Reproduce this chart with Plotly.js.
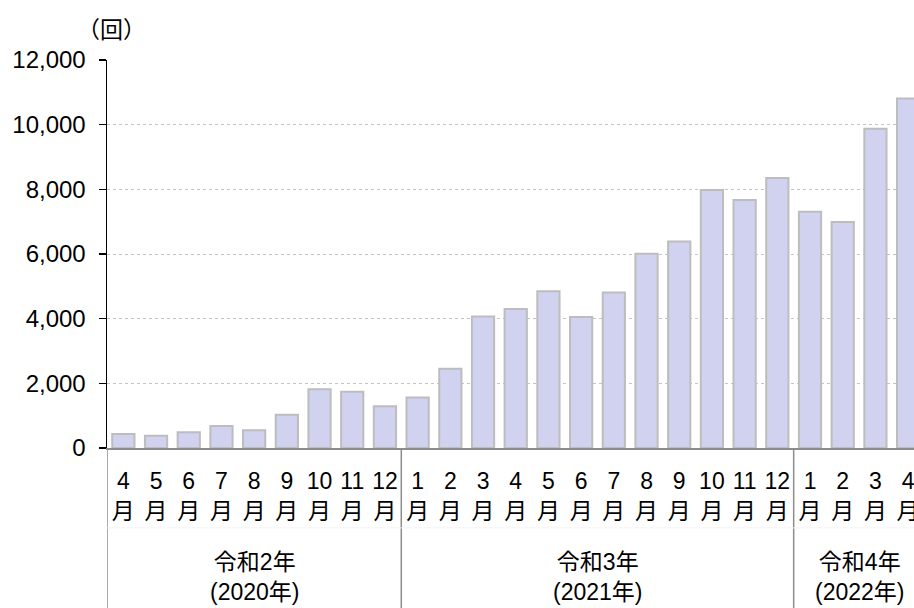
<!DOCTYPE html>
<html>
<head>
<meta charset="utf-8">
<script src="https://cdn.plot.ly/plotly-3.0.1.min.js"></script>
<style>
html,body{margin:0;padding:0;overflow:hidden;background:#fff;}
#chart{width:914px;height:608px;}
</style>
</head>
<body>
<div id="chart"></div>
<script>
// Data
const months = ["4","5","6","7","8","9","10","11","12","1","2","3","4","5","6","7","8","9","10","11","12","1","2","3","4"];
const yearIndex = [0,0,0,0,0,0,0,0,0,1,1,1,1,1,1,1,1,1,1,1,1,2,2,2,2];
const values = [430,380,490,680,550,1030,1820,1740,1290,1560,2450,4070,4300,4850,4050,4810,6010,6390,7980,7670,8350,7310,6990,9870,10810];
const yearLabels = ["令和2年<br>(2020年)","令和3年<br>(2021年)","令和4年<br>(2022年)"];
const yTicks = [0,2000,4000,6000,8000,10000,12000];
const yTickText = ["0","2,000","4,000","6,000","8,000","10,000","12,000"];
const unitLabel = "（回）";

const FONT = "Arial, 'Liberation Sans', 'Noto Sans CJK JP', sans-serif";
const idx = months.map((m,i)=>i);

// group boundaries and centers
const groups = [];
yearIndex.forEach((g,i)=>{
  if(!groups[g]) groups[g] = {start:i,end:i};
  groups[g].end = i;
});

const shapes = [];
// left vertical extension
shapes.push({type:'line', xref:'x', yref:'paper', x0:-0.5, x1:-0.5, y0:0, y1:-0.5, line:{color:'#8c8c8c', width:1.5}});
groups.forEach((g,k)=>{
  if(k>0){
    shapes.push({type:'line', xref:'x', yref:'paper', x0:g.start-0.5, x1:g.start-0.5, y0:0, y1:-0.5, line:{color:'#8c8c8c', width:1.5}});
  }
});
// faint horizontal separator between month row and year row
shapes.push({type:'line', xref:'paper', yref:'paper', x0:0, x1:1, y0:-0.206, y1:-0.206, line:{color:'#f2f2f2', width:1}});

const annotations = groups.map((g,k)=>({
  xref:'x', yref:'paper', x:(g.start+g.end)/2, y:-0.332, yanchor:'middle', xanchor:'center',
  text:yearLabels[k], showarrow:false, font:{family:FONT, size:23, color:'#000'}
}));
annotations.push({xref:'paper', yref:'paper', x:0.006, y:1.0, yshift:32, xanchor:'center', yanchor:'middle',
  text:unitLabel, showarrow:false, font:{family:"'Noto Sans CJK JP', sans-serif", size:23, color:'#000'}});

const trace = {
  type:'bar', x:idx, y:values,
  marker:{color:'#d1d1f0', line:{color:'#bdbdbd', width:2}},
  hoverinfo:'skip'
};

const layout = {
  width:914, height:608,
  margin:{l:107, r:0, t:60, b:160},
  paper_bgcolor:'#fff', plot_bgcolor:'#fff',
  bargap:0.32,
  showlegend:false,
  font:{family:FONT, size:23, color:'#000'},
  xaxis:{
    range:[-0.5, 24.18], tickmode:'array', tickvals:idx,
    ticktext:months.map(m=>m+'<br>月'),
    showgrid:false, zeroline:false, showline:true, linecolor:'#8c8c8c', linewidth:1.5,
    ticks:'', ticklabelstandoff:12, ticklabeloverflow:'allow',
    tickfont:{family:FONT, size:23, color:'#000'},
    fixedrange:true
  },
  yaxis:{
    range:[0,12000], tickmode:'array', tickvals:yTicks, ticktext:yTickText,
    showgrid:true, gridcolor:'#c4c4c4', griddash:'dot', gridwidth:1,
    zeroline:false, showline:true, linecolor:'#000', linewidth:1.5,
    ticks:'outside', ticklen:7, tickcolor:'#000', tickwidth:1.5,
    ticklabelstandoff:8,
    tickfont:{family:FONT, size:24, color:'#000'}, fixedrange:true
  },
  shapes:shapes,
  annotations:annotations
};

Plotly.newPlot('chart', [trace], layout, {displayModeBar:false, staticPlot:true});
</script>
</body>
</html>
